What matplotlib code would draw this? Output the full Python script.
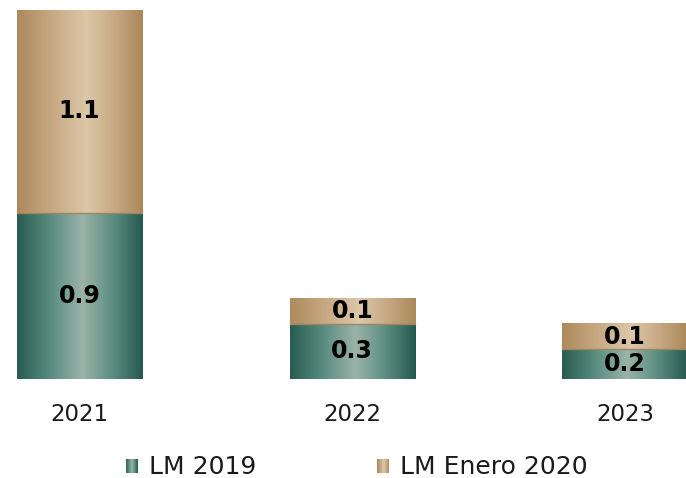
import numpy as np
import matplotlib
matplotlib.use("Agg")
import matplotlib.pyplot as plt
from matplotlib.colors import LinearSegmentedColormap
from matplotlib.legend_handler import HandlerBase
from matplotlib.patches import Rectangle

years = ["2021", "2022", "2023"]
lm_2019 = [0.9, 0.30, 0.16]
lm_enero_2020 = [1.1, 0.14, 0.14]
series_names = ["LM 2019", "LM Enero 2020"]

green = LinearSegmentedColormap.from_list(
    "green", [(0.0, "#285c50"), (0.25, "#568a7d"), (0.52, "#9bb3a9"),
              (0.75, "#5f8f83"), (1.0, "#265a4e")])
gold = LinearSegmentedColormap.from_list(
    "gold", [(0.0, "#ad8a5c"), (0.25, "#c4a67f"), (0.55, "#dcc7a8"),
             (0.78, "#c6a882"), (1.0, "#ab885a")])


class GradientHandler(HandlerBase):
    # legend swatch made of thin vertical stripes
    def __init__(self, cmap):
        super().__init__()
        self.cmap = cmap

    def create_artists(self, legend, orig_handle, xdescent, ydescent,
                       width, height, fontsize, trans):
        n = 24
        arts = []
        for i in range(n):
            r = Rectangle((-xdescent + width * i / n, -ydescent),
                          width / n * 1.05, height,
                          facecolor=self.cmap((i + 0.5) / n),
                          edgecolor="none", transform=trans)
            arts.append(r)
        return arts


fig = plt.figure(figsize=(6.86, 4.78), dpi=100)
ax = fig.add_axes([0, 0.2071, 1, 0.7929])

x = np.arange(len(years))
width = 0.459
b1 = ax.bar(x, lm_2019, width, color="none", label=series_names[0])
b2 = ax.bar(x, lm_enero_2020, width, bottom=lm_2019, color="none",
            label=series_names[1])

grad = np.linspace(0, 1, 256).reshape(1, -1)
for bars, cmap in [(b1, green), (b2, gold)]:
    for p in bars.patches:
        x0, y0 = p.get_x(), p.get_y()
        w, h = p.get_width(), p.get_height()
        ax.imshow(grad, cmap=cmap, extent=[x0, x0 + w, y0, y0 + h],
                  aspect="auto", interpolation="bilinear", zorder=2)

# thin seam between the two segments
for i in range(len(years)):
    ax.plot([x[i] - width / 2, x[i] + width / 2], [lm_2019[i], lm_2019[i]],
            color="#9c8660", lw=1, zorder=3)

for i in range(len(years)):
    ax.text(x[i], lm_2019[i] / 2, f"{lm_2019[i]:.1f}", ha="center",
            va="center", fontsize=17, fontweight="bold", color="black",
            zorder=4)
    ax.text(x[i], lm_2019[i] + lm_enero_2020[i] / 2,
            f"{lm_enero_2020[i]:.1f}", ha="center", va="center",
            fontsize=17, fontweight="bold", color="black", zorder=4)

ax.set_xlim(-0.2915, 2.2236)
ax.set_ylim(0, 2.054)
ax.set_xticks(x)
ax.set_xticklabels(years, fontsize=16.5, color="#1a1a1a")
ax.set_yticks([])
ax.tick_params(axis="x", length=0, pad=17)
for s in ax.spines.values():
    s.set_visible(False)

ax.legend([b1, b2], series_names,
          handler_map={b1: GradientHandler(green), b2: GradientHandler(gold)},
          loc="center", bbox_to_anchor=(0.52, 0.022),
          bbox_transform=fig.transFigure, ncol=2, frameon=False,
          fontsize=18, handlelength=0.48, handleheight=0.48,
          handletextpad=0.44, columnspacing=4.85, labelcolor="#1a1a1a")

fig.savefig("out.png", dpi=100)
